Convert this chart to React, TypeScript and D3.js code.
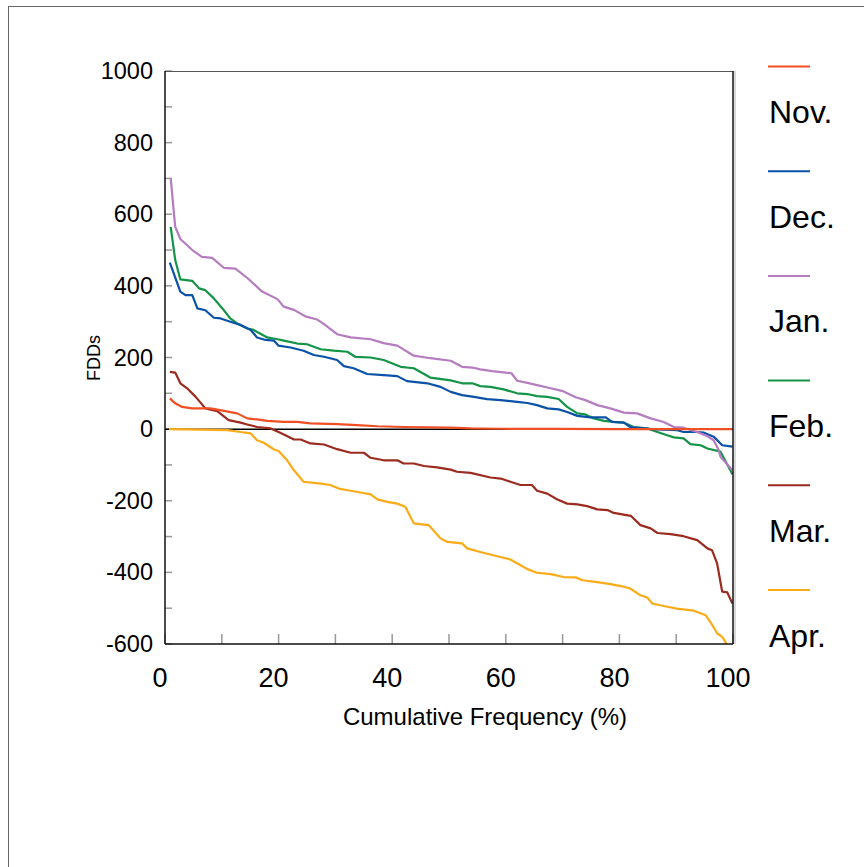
import React from "react";
import * as d3 from "d3";

type Pt = [number, number];

const novData: Pt[] = [
  [0.85, 86], [1.8, 72], [3.0, 62], [4.8, 58], [8.0, 58], [10.4, 51], [12.7, 44], [14.5, 30],
  [16.2, 27], [18.0, 23], [20.9, 20], [23.3, 20], [25.6, 16], [30.3, 14], [33.8, 11], [37.4, 8],
  [42.0, 6], [50.3, 4], [53.8, 2], [59.1, 1], [69.6, 0.5], [80.2, 0], [99.9, 0],
];

const decData: Pt[] = [
  [0.85, 465], [2.7, 384], [3.6, 374], [4.8, 374], [5.7, 337], [7.1, 332], [8.6, 311], [9.8, 309],
  [11.5, 300], [13.3, 291], [15.1, 277], [16.2, 256], [17.7, 249], [19.2, 247], [20.0, 233],
  [22.1, 228], [24.4, 219], [26.2, 207], [28.0, 202], [30.3, 193], [31.5, 176], [33.2, 170],
  [35.6, 154], [38.5, 151], [40.9, 148], [42.6, 134], [46.2, 128], [48.5, 118], [50.3, 104],
  [52.3, 95], [54.4, 90], [56.7, 84], [59.1, 81], [62.0, 76], [63.8, 73], [65.5, 67], [67.3, 58],
  [69.3, 55], [70.8, 48], [72.6, 37], [74.9, 33], [77.6, 33], [78.7, 20], [80.8, 18], [81.9, 6],
  [84.3, 2], [86.7, -1], [90.2, -3], [91.3, -8], [93.7, -8], [94.9, -10], [96.6, -21], [98.1, -45],
  [99.9, -49],
];

const janData: Pt[] = [
  [1.0, 701], [1.8, 565], [2.7, 531], [4.8, 500], [6.5, 481], [8.3, 478], [10.4, 450], [12.4, 448],
  [14.5, 422], [17.1, 384], [19.8, 363], [20.9, 342], [22.7, 333], [24.7, 315], [26.8, 306],
  [28.0, 293], [30.3, 265], [32.7, 256], [36.2, 251], [38.5, 240], [40.9, 233], [43.8, 205],
  [46.7, 198], [50.3, 191], [52.3, 174], [54.1, 172], [55.5, 167], [57.6, 162], [61.0, 156],
  [62.0, 135], [63.8, 129], [65.5, 123], [67.9, 114], [69.9, 107], [72.3, 89], [74.0, 81],
  [76.1, 67], [78.4, 58], [80.8, 46], [83.1, 44], [85.5, 30], [87.8, 20], [89.6, 6], [91.3, 4],
  [93.7, -8], [95.5, -20], [96.6, -31], [97.5, -59], [97.8, -77], [99.9, -115],
];

const febData: Pt[] = [
  [1.0, 565], [1.8, 472], [2.7, 418], [4.8, 414], [6.0, 393], [7.1, 388], [8.6, 365], [10.1, 337],
  [11.5, 309], [12.7, 295], [14.5, 281], [15.6, 277], [18.0, 256], [19.8, 251], [20.9, 247],
  [23.3, 239], [25.0, 237], [27.4, 223], [29.7, 219], [32.1, 216], [33.5, 202], [36.2, 200],
  [38.5, 193], [41.5, 174], [43.8, 170], [46.7, 144], [50.3, 136], [52.3, 128], [54.1, 128],
  [55.5, 120], [57.3, 118], [59.6, 111], [62.0, 100], [63.8, 98], [65.5, 92], [67.3, 90],
  [69.3, 84], [70.8, 62], [72.6, 44], [74.0, 41], [75.5, 30], [77.3, 23], [79.0, 20], [80.8, 18],
  [82.5, 6], [84.9, 2], [86.7, -8], [88.4, -17], [89.6, -23], [91.3, -26], [92.5, -42], [94.3, -45],
  [95.5, -54], [97.8, -63], [99.9, -126],
];

const marData: Pt[] = [
  [0.85, 160], [1.8, 158], [2.7, 128], [3.9, 114], [5.4, 90], [7.1, 58], [9.2, 50], [11.2, 25],
  [13.3, 18], [14.5, 13], [16.2, 6], [18.6, 2], [20.0, -8], [21.2, -17], [22.7, -29], [23.9, -29],
  [25.6, -40], [28.0, -43], [30.3, -56], [32.7, -66], [35.0, -66], [36.2, -80], [38.5, -87],
  [40.9, -87], [42.0, -96], [43.8, -96], [45.6, -103], [47.9, -107], [50.3, -113], [51.4, -119],
  [53.8, -122], [57.3, -135], [59.1, -138], [60.8, -147], [62.6, -156], [64.6, -156], [65.5, -172],
  [67.3, -180], [69.0, -196], [70.8, -208], [72.6, -210], [74.3, -215], [76.1, -224], [77.9, -226],
  [79.0, -234], [82.0, -242], [83.7, -268], [85.5, -277], [86.7, -290], [89.0, -293], [91.3, -299],
  [93.7, -310], [95.5, -333], [96.3, -338], [97.2, -375], [98.1, -454], [99.0, -456], [99.9, -487],
];

const aprData: Pt[] = [
  [0.7, 0], [11.0, -3], [13.3, -8], [15.1, -12], [16.2, -31], [17.4, -38], [19.2, -57], [20.0, -61],
  [21.5, -87], [22.7, -115], [24.4, -147], [27.4, -152], [29.1, -156], [30.6, -166], [32.7, -172],
  [34.4, -177], [36.2, -182], [37.4, -196], [39.1, -203], [40.9, -208], [42.3, -217], [43.8, -263],
  [46.4, -268], [48.5, -305], [49.7, -315], [52.3, -319], [53.2, -333], [55.5, -343], [58.5, -355],
  [60.8, -364], [62.6, -380], [63.8, -391], [65.5, -401], [67.9, -405], [70.2, -413], [72.3, -414],
  [73.5, -422], [76.1, -427], [78.4, -433], [80.5, -439], [81.9, -445], [83.7, -464], [84.9, -470],
  [85.8, -487], [87.8, -494], [90.1, -501], [93.1, -507], [95.2, -520], [96.0, -538], [97.2, -570],
  [98.1, -580], [99.0, -603],
];

const seriesNames = ["Nov.", "Dec.", "Jan.", "Feb.", "Mar.", "Apr."];
const seriesColors = ["#f04e23", "#0a52a8", "#b57cc0", "#139447", "#9b2b1f", "#fbab18"];
const seriesData = [novData, decData, janData, febData, marData, aprData];

const xTicks = [0, 20, 40, 60, 80, 100];
const xMinorTicks = d3.range(0, 101, 10);
const yTicks = [-600, -400, -200, 0, 200, 400, 600, 800, 1000];
const yMinorTicks = d3.range(-600, 1001, 100);

const FONT = "'Liberation Sans', Arial, sans-serif";

export default function App() {
  const W = 864;
  const H = 867;
  const left = 165;
  const right = 733;
  const top = 71;
  const bottom = 644;

  const x = d3.scaleLinear().domain([0, 100]).range([left, right]);
  const y = d3.scaleLinear().domain([-600, 1000]).range([bottom, top]);
  const line = d3
    .line<Pt>()
    .x((d) => x(d[0]))
    .y((d) => y(d[1]));

  const drawOrder = [5, 4, 3, 1, 2, 0];

  return (
    <svg
      width={W}
      height={H}
      style={{ position: "absolute", left: 0, top: 0, background: "#fff" }}
      fontFamily={FONT}
    >
      <rect x={0} y={0} width={W} height={H} fill="#fff" />
      <rect x={8.5} y={6.5} width={1000} height={1000} fill="none" stroke="#666" strokeWidth={1} />
      <defs>
        <clipPath id="plotClip">
          <rect x={left} y={top} width={right - left} height={bottom - top} />
        </clipPath>
      </defs>

      {/* ticks */}
      {yMinorTicks.map((t) => (
        <line key={"yt" + t} x1={left} x2={left + 7} y1={y(t)} y2={y(t)} stroke="#999" strokeWidth={1.5} />
      ))}
      {xMinorTicks.map((t) => (
        <line key={"xt" + t} x1={x(t)} x2={x(t)} y1={bottom} y2={bottom - 10} stroke="#999" strokeWidth={1.5} />
      ))}

      {/* zero line */}
      <line x1={left} x2={right} y1={y(0)} y2={y(0)} stroke="#000" strokeWidth={1.5} />

      <g clipPath="url(#plotClip)">
        {drawOrder.map((i) => (
          <path
            key={seriesNames[i]}
            d={line(seriesData[i]) || ""}
            fill="none"
            stroke={seriesColors[i]}
            strokeWidth={2.2}
            strokeLinejoin="round"
          />
        ))}
      </g>

      {/* frame */}
      <line x1={left} x2={right} y1={top + 0.5} y2={top + 0.5} stroke="#555" strokeWidth={1.2} />
      <line x1={left} x2={left} y1={top} y2={bottom} stroke="#111" strokeWidth={1.5} />
      <line x1={right} x2={right} y1={top} y2={bottom} stroke="#111" strokeWidth={1.5} />
      <line x1={right + 2} x2={right + 2} y1={top} y2={bottom} stroke="#ccc" strokeWidth={1.5} />
      <line x1={left} x2={right} y1={bottom} y2={bottom} stroke="#111" strokeWidth={1.5} />

      {/* y tick labels */}
      {yTicks.map((t) => (
        <text key={"yl" + t} x={153} y={y(t) + 8} textAnchor="end" fontSize={23.5} fill="#000">
          {t}
        </text>
      ))}
      {/* x tick labels */}
      {xTicks.map((t) => (
        <text key={"xl" + t} x={x(t) - 5} y={687} textAnchor="middle" fontSize={27} fill="#000">
          {t}
        </text>
      ))}

      <text x={485} y={725} textAnchor="middle" fontSize={24} fill="#000">
        Cumulative Frequency (%)
      </text>
      <text
        transform="translate(100,358) rotate(-90)"
        textAnchor="middle"
        fontSize={18}
        fill="#000"
      >
        FDDs
      </text>

      {/* legend */}
      {seriesNames.map((name, i) => {
        const ly = 66.5 + i * 104.7;
        return (
          <g key={"lg" + name}>
            <line x1={768} x2={810} y1={ly} y2={ly} stroke={seriesColors[i]} strokeWidth={2} />
            <text x={769} y={ly + 56.5} fontSize={32} fill="#000">
              {name}
            </text>
          </g>
        );
      })}
    </svg>
  );
}
